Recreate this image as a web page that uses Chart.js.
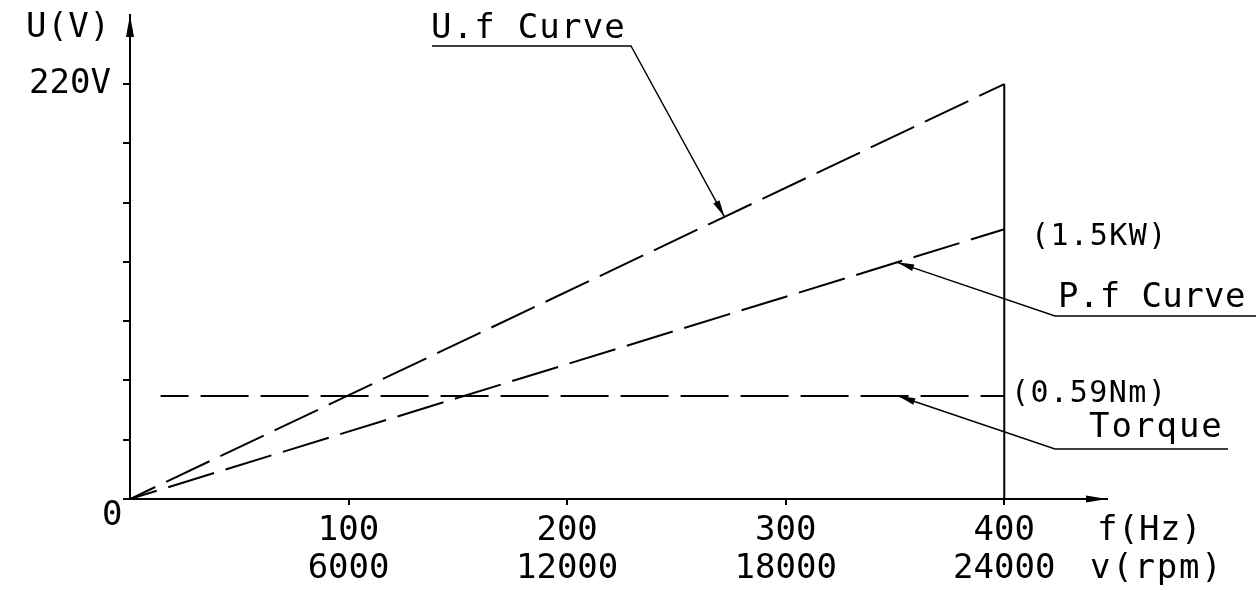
<!DOCTYPE html>
<html>
<head>
<meta charset="utf-8">
<script src="https://cdn.jsdelivr.net/npm/chart.js@4.4.1/dist/chart.umd.min.js"></script>
<style>
  html, body { margin: 0; padding: 0; background: #fff; }
  #wrap { width: 1260px; height: 590px; }
</style>
</head>
<body>
<div id="wrap"><canvas id="uf-chart"></canvas></div>
<script>
// values (y in the drawing's U(V) units)
const curveFreq = [0, 400];
const ufVolts = [0, 220];
const pfValues = [0, 143];
const torqueFreq = [14, 400];
const torqueValues = [54.6, 54.6];
const limitFreq = [400, 400];
const limitValues = [220, 0];

const xTickValues = [100, 200, 300, 400];
const xTickHz = ["100", "200", "300", "400"];
const xTickRpm = ["6000", "12000", "18000", "24000"];
const yTickValues = [0, 31.4, 62.9, 94.3, 125.7, 157.1, 188.6, 220];
const yTickLabels = ["", "", "", "", "", "", "", "220V"];

const FONT = "DejaVu Sans Mono";
const ink = "#000";

const toPoints = (xs, ys) => xs.map((x, i) => ({ x: x, y: ys[i] }));

const dashed = (label, xs, ys) => ({
  label: label,
  data: toPoints(xs, ys),
  showLine: true,
  borderColor: ink,
  borderWidth: 2,
  borderDash: [48, 12],
  borderDashOffset: 20,
  pointRadius: 0,
});

// arrow head with its tip at (x, y), pointing along (dx, dy)
function arrowHead(ctx, x, y, dx, dy, len, half) {
  const d = Math.hypot(dx, dy);
  const ux = dx / d, uy = dy / d;
  const bx = x - ux * len, by = y - uy * len;
  ctx.beginPath();
  ctx.moveTo(x, y);
  ctx.lineTo(bx - uy * half, by + ux * half);
  ctx.lineTo(bx + uy * half, by - ux * half);
  ctx.closePath();
  ctx.fill();
}

// underline from x1 to x2, then a leader from x1 to a point on a curve
function leader(ctx, x1, x2, y, tipX, tipY) {
  ctx.lineWidth = 1.4;
  ctx.beginPath();
  ctx.moveTo(x2, y);
  ctx.lineTo(x1, y);
  ctx.lineTo(tipX, tipY);
  ctx.stroke();
  arrowHead(ctx, tipX, tipY, tipX - x1, tipY - y, 17, 3.5);
}

function label(ctx, text, x, y, size, spacing) {
  ctx.font = size + "px '" + FONT + "'";
  ctx.letterSpacing = spacing + "px";
  ctx.fillText(text, x, y);
}

const drawingNotes = {
  id: "drawingNotes",
  afterDraw(chart) {
    const ctx = chart.ctx;
    const xs = chart.scales.x;
    const ys = chart.scales.y;
    const area = chart.chartArea;
    const px = (v) => xs.getPixelForValue(v);
    const py = (v) => ys.getPixelForValue(v);
    ctx.save();
    ctx.fillStyle = ink;
    ctx.strokeStyle = ink;

    // axis arrows
    arrowHead(ctx, area.left, area.top, 0, -1, 22, 4);
    arrowHead(ctx, area.right, area.bottom, 1, 0, 21, 3.5);

    ctx.textBaseline = "alphabetic";
    ctx.textAlign = "left";
    label(ctx, "U(V)", 26, 37, 34, 0.7);
    label(ctx, "0", 102, 525, 34, 0);
    label(ctx, "f(Hz)", 1097, 540, 34, 0.5);
    label(ctx, "v(rpm)", 1090, 578, 34, 1.8);

    label(ctx, "U.f Curve", 431, 38, 34, 1.2);
    label(ctx, "P.f Curve", 1058, 307, 34, 0.4);
    label(ctx, "Torque", 1089, 437, 34, 2);
    label(ctx, "(1.5KW)", 1031, 245, 30, 1.5);
    label(ctx, "(0.59Nm)", 1011, 402, 30, 1.5);
    ctx.letterSpacing = "0px";

    // leaders
    const ufAt = 272;
    const pfAt = 351;
    const tqAt = 351.5;
    leader(ctx, 631, 432, 46, px(ufAt), py(ufVolts[1] * ufAt / curveFreq[1]));
    leader(ctx, 1055, 1256, 316, px(pfAt), py(pfValues[1] * pfAt / curveFreq[1]));
    leader(ctx, 1055, 1228, 449, px(tqAt), py(torqueValues[0]));

    ctx.restore();
  },
};

new Chart(document.getElementById("uf-chart"), {
  type: "scatter",
  data: {
    datasets: [
      dashed("U.f Curve", curveFreq, ufVolts),
      dashed("P.f Curve", curveFreq, pfValues),
      dashed("Torque", torqueFreq, torqueValues),
      {
        label: "400 Hz",
        data: toPoints(limitFreq, limitValues),
        showLine: true,
        borderColor: ink,
        borderWidth: 2,
        pointRadius: 0,
      },
    ],
  },
  options: {
    responsive: true,
    maintainAspectRatio: false,
    animation: false,
    layout: { padding: { left: 0, top: 15, right: 153, bottom: 0 } },
    plugins: { legend: { display: false }, tooltip: { enabled: false } },
    scales: {
      x: {
        type: "linear",
        min: 0,
        max: 447,
        afterBuildTicks: (s) => { s.ticks = xTickValues.map((v) => ({ value: v })); },
        afterFit: (s) => { s.height = 91; s.paddingLeft = 0; s.paddingRight = 0; },
        ticks: {
          autoSkip: false,
          maxRotation: 0,
          padding: 7,
          color: ink,
          font: { family: FONT, size: 34, lineHeight: 1.12 },
          callback: (v, i) => [xTickHz[i], xTickRpm[i]],
        },
        grid: { drawOnChartArea: false, drawTicks: true, tickLength: 6, color: ink, lineWidth: 2 },
        border: { display: true, color: ink, width: 2 },
      },
      y: {
        type: "linear",
        min: 0,
        max: 256.6,
        afterBuildTicks: (s) => { s.ticks = yTickValues.map((v) => ({ value: v })); },
        afterFit: (s) => { s.width = 130; s.paddingTop = 0; s.paddingBottom = 0; },
        ticks: {
          autoSkip: false,
          padding: 12,
          color: ink,
          font: { family: FONT, size: 34 },
          callback: (v, i) => yTickLabels[i],
        },
        grid: { drawOnChartArea: false, drawTicks: true, tickLength: 7, color: ink, lineWidth: 2 },
        border: { display: true, color: ink, width: 2 },
      },
    },
  },
  plugins: [drawingNotes],
});
</script>
</body>
</html>
